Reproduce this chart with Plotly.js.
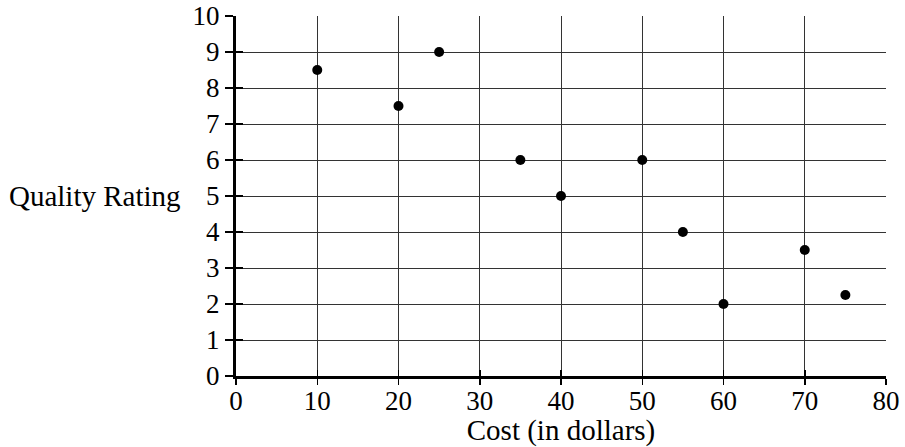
<!DOCTYPE html>
<html>
<head>
<meta charset="utf-8">
<script src="https://cdn.plot.ly/plotly-3.0.1.min.js"></script>
<style>html,body{margin:0;padding:0;background:#fff}#chart{width:905px;height:447px}</style>
</head>
<body>
<div id="chart"></div>
<script>
var costs = [10, 20, 25, 35, 40, 50, 55, 60, 70, 75];
var ratings = [8.5, 7.5, 9, 6, 5, 6, 4, 2, 3.5, 2.25];
var xTicks = [0, 10, 20, 30, 40, 50, 60, 70, 80];
var yTicks = [0, 1, 2, 3, 4, 5, 6, 7, 8, 9, 10];
var xTitle = "Cost (in dollars)";
var yTitle = "Quality Rating";

var font = "Liberation Serif, Times New Roman, serif";

var data = [{
  x: costs, y: ratings, type: "scatter", mode: "markers",
  marker: {color: "#000", size: 10},
  hoverinfo: "none", showlegend: false
}, {
  x: [], y: [], xaxis: "x2", yaxis: "y2", type: "scatter", showlegend: false
}];

var layout = {
  width: 905, height: 447,
  margin: {l: 236, r: 19, t: 16, b: 71},
  paper_bgcolor: "#fff", plot_bgcolor: "#fff",
  font: {family: font, color: "#000", size: 27},
  xaxis: {
    range: [0, 80], tickvals: xTicks, ticktext: xTicks.map(String),
    showgrid: true, gridcolor: "#333", gridwidth: 1,
    zeroline: false, showline: true, linecolor: "#000", linewidth: 3,
    ticks: "outside", ticklen: 6, tickwidth: 1.5, tickcolor: "#000",
    ticklabelstandoff: -7,
    tickfont: {family: font, size: 27, color: "#000"},
    title: {text: xTitle, font: {family: font, size: 29, color: "#000"}, standoff: 0},
    fixedrange: true
  },
  yaxis: {
    range: [0, 10], tickvals: yTicks, ticktext: yTicks.map(String),
    showgrid: true, gridcolor: "#333", gridwidth: 1,
    zeroline: false, showline: true, linecolor: "#000", linewidth: 3,
    ticks: "outside", ticklen: 8, tickwidth: 1.5, tickcolor: "#000",
    tickfont: {family: font, size: 27, color: "#000"},
    fixedrange: true
  },
  xaxis2: {
    overlaying: "x", matches: "x", range: [0, 80], tickvals: xTicks,
    showticklabels: false, showgrid: false, zeroline: false, showline: false,
    ticks: "inside", ticklen: 6, tickwidth: 1.5, tickcolor: "#000", anchor: "y2", side: "bottom"
  },
  yaxis2: {
    overlaying: "y", matches: "y", range: [0, 10], tickvals: yTicks,
    showticklabels: false, showgrid: false, zeroline: false, showline: false,
    ticks: "inside", ticklen: 7, tickwidth: 1.5, tickcolor: "#000", anchor: "x2", side: "left"
  },
  annotations: [{
    text: yTitle, xref: "paper", yref: "y", x: -0.082, y: 5,
    xanchor: "right", yanchor: "middle", showarrow: false,
    font: {family: font, size: 29, color: "#000"}
  }]
};

Plotly.newPlot("chart", data, layout, {staticPlot: true, displayModeBar: false});
</script>
</body>
</html>
